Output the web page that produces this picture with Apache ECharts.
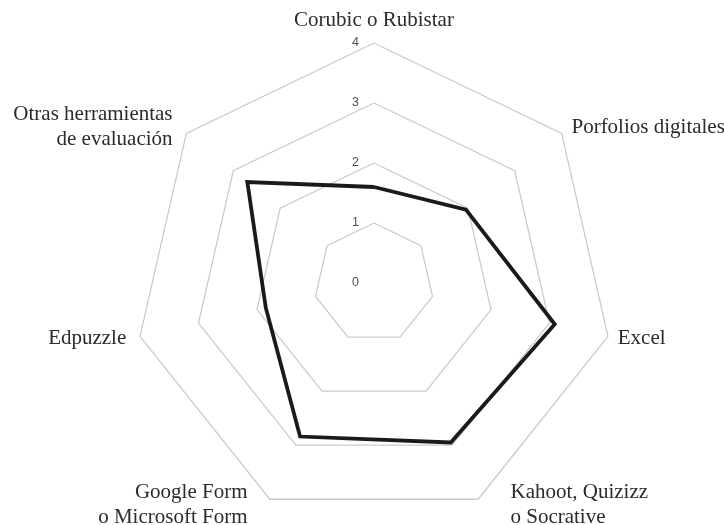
<!DOCTYPE html>
<html>
<head>
<meta charset="utf-8">
<script src="https://cdn.jsdelivr.net/npm/echarts@6/dist/echarts.min.js"></script>
<style>
    html, body { margin: 0; padding: 0; background: #fff; }
    #radarChart { width: 724px; height: 525px; }
</style>
</head>
<body>
<div id="radarChart"></div>
<script>
// categorías en el orden del gráfico, en sentido horario desde arriba
var categories = [
    'Corubic o Rubistar',
    'Porfolios digitales',
    'Excel',
    'Kahoot, Quizizz\no Socrative',
    'Google Form\no Microsoft Form',
    'Edpuzzle',
    'Otras herramientas\nde evaluación'
];
var values = [1.6, 1.96, 3.09, 2.95, 2.84, 1.85, 2.7];
var axisMax = 4;
var ticks = [0, 1, 2, 3, 4];

// desplazamiento extra de algunos rótulos (px): [izq, der, subir]
var nameShift = {
    'Porfolios digitales': [2, 0, 0],
    'Kahoot, Quizizz\no Socrative': [28, 0, 3],
    'Google Form\no Microsoft Form': [0, 18, 3],
    'Otras herramientas\nde evaluación': [0, 6, 0],
    'Edpuzzle': [0, 4, 0]
};
var LINE_H = 25;

function buildChart() {
    // echarts reparte los ejes en sentido antihorario: se invierte el orden
    var order = [0];
    for (var i = categories.length - 1; i > 0; i--) {
        order.push(i);
    }
    var indicator = [];
    var data = [];
    for (var j = 0; j < order.length; j++) {
        var ind = {name: categories[order[j]], min: ticks[0], max: axisMax};
        if (j === 0) {
            ind.axisLabel = {show: true};
        }
        indicator.push(ind);
        data.push(values[order[j]]);
    }
    var font = {fontFamily: 'Liberation Serif', fontSize: 21, color: '#2b2b2b', lineHeight: LINE_H};
    var rich = {n: echarts.util.clone(font)};
    for (var k in nameShift) {
        var idx = categories.indexOf(k);
        var s = nameShift[k];
        var multi = k.indexOf('\n') >= 0;
        // primera línea más baja y última más alta: sube el bloque sin cambiar el alto total
        var a = echarts.util.clone(font);
        a.padding = [0, s[1], 0, s[0]];
        if (multi) a.lineHeight = LINE_H - 2 * s[2];
        var b = echarts.util.clone(font);
        b.padding = [0, s[1], 0, s[0]];
        if (multi) b.lineHeight = LINE_H + 2 * s[2];
        rich['p' + idx] = a;
        rich['q' + idx] = b;
    }
    var option = {
        animation: false,
        radar: {
            center: [374, 283],
            radius: 240,
            startAngle: 90,
            splitNumber: ticks.length - 1,
            shape: 'polygon',
            nameGap: 10,
            axisName: {
                color: '#2b2b2b',
                fontFamily: 'Liberation Serif',
                fontSize: 21,
                lineHeight: LINE_H,
                formatter: function (name) {
                    var idx = categories.indexOf(name);
                    var lines = name.split('\n');
                    return lines.map(function (line, n) {
                        var tag = 'n';
                        if (nameShift[name]) {
                            tag = (n === lines.length - 1 && n > 0 ? 'q' : 'p') + idx;
                        }
                        return '{' + tag + '|' + line + '}';
                    }).join('\n');
                },
                rich: rich
            },
            axisLine: {show: false},
            axisTick: {show: false},
            axisLabel: {
                show: false,
                margin: 15,
                color: '#505050',
                fontFamily: 'Liberation Sans',
                fontSize: 12.5
            },
            splitLine: {lineStyle: {color: '#cbcbcb', width: 1.3}},
            splitArea: {show: false},
            indicator: indicator
        },
        series: [{
            type: 'radar',
            symbol: 'none',
            lineStyle: {color: '#1a1a1a', width: 3.8, join: 'miter'},
            data: [{value: data}]
        }]
    };
    var chart = echarts.init(document.getElementById('radarChart'));
    chart.setOption(option);
}
buildChart();
</script>
</body>
</html>
